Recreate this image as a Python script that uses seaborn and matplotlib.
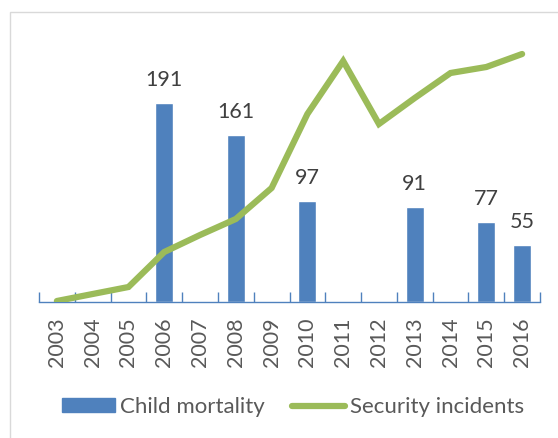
import matplotlib
matplotlib.use("Agg")
import matplotlib.pyplot as plt
import seaborn as sns
import pandas as pd
import numpy as np
from matplotlib.patches import Rectangle
from matplotlib.lines import Line2D
from matplotlib.patches import Patch

years = ["2003", "2004", "2005", "2006", "2007", "2008", "2009", "2010",
         "2011", "2012", "2013", "2014", "2015", "2016"]
child_mortality = [np.nan, np.nan, np.nan, 191, np.nan, 161, np.nan, 97,
                   np.nan, np.nan, 91, np.nan, 77, 55]
security_incidents = [100, 800, 1500, 5000, 6700, 8300, 11400, 18800,
                      24100, 17800, 20400, 22900, 23500, 24800]

BLUE = "#4F81BD"
GREEN = "#9BBB59"
FONT = ["Lato", "DejaVu Sans"]

sns.set_theme(style="white")
plt.rcParams["font.family"] = FONT

df = pd.DataFrame({"year": years, "child": child_mortality,
                   "security": security_incidents})

fig = plt.figure(figsize=(5.58, 4.38), dpi=100)
ax = fig.add_axes([39 / 558, 1 - 302 / 438, (540 - 39) / 558, (302 - 42) / 438])

sns.barplot(data=df, x="year", y="child", color=BLUE, width=0.5,
            saturation=1, ax=ax, order=years)
ax.set_ylim(0, 250)
ax.set_xlim(-0.5, len(years) - 0.5)

for i, v in enumerate(child_mortality):
    if not np.isnan(v):
        ax.text(i, v + 12.5, f"{int(v)}", ha="center", va="bottom",
                fontsize=15.5, color="#404040")

ax2 = ax.twinx()
sns.lineplot(x=np.arange(len(years)), y=security_incidents, color=GREEN,
             linewidth=4.5, ax=ax2, solid_capstyle="round", solid_joinstyle="miter")
ax2.set_ylim(0, 26000)
ax2.set_xlim(-0.5, len(years) - 0.5)
ax2.set_yticks([])
ax2.set_ylabel("")

for a in (ax, ax2):
    for s in a.spines.values():
        s.set_visible(False)
ax.spines["bottom"].set_visible(True)
ax.spines["bottom"].set_color(BLUE)
ax.spines["bottom"].set_linewidth(1)

ax.set_yticks([])
ax.set_ylabel("")
ax.set_xlabel("")
ax.set_xticks(np.arange(-0.5, len(years), 1), minor=False)
ax.set_xticklabels([])
ax.tick_params(axis="x", which="major", direction="in", length=7,
               color=BLUE, width=1, bottom=True)
ax.set_xticks(np.arange(len(years)), minor=True)
ax.set_xticklabels(years, minor=True, rotation=90, fontsize=15.5,
                   color="#595959")
ax.tick_params(axis="x", which="minor", length=0, pad=11)

# outer border
fig.patches.append(Rectangle((10 / 558, -0.1), 1.2, 1 - 12 / 438 + 0.1,
                             transform=fig.transFigure, fill=False,
                             edgecolor="#D9D9D9", linewidth=1))

handles = [Patch(facecolor=BLUE, edgecolor=BLUE),
           Line2D([0], [0], color=GREEN, linewidth=4.5, solid_capstyle="round")]
fig.legend(handles, ["Child mortality", "Security incidents"],
           loc="center", bbox_to_anchor=(0.525, 1 - 407 / 438), ncol=2,
           frameon=False, fontsize=16, handlelength=2.4, handleheight=0.6,
           handletextpad=0.22, columnspacing=1.2, labelcolor="#595959")

fig.savefig("out.png", dpi=100)
